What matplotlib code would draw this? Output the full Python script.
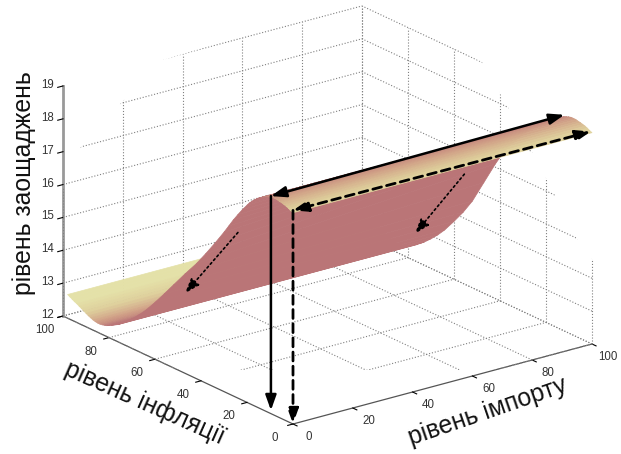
"""
Поверхня рівня заощаджень залежно від імпорту та інфляції
"""
import numpy as np
import matplotlib
matplotlib.use('Agg')
import matplotlib.pyplot as plt
from matplotlib.colors import LinearSegmentedColormap
from matplotlib.path import Path
from matplotlib.transforms import IdentityTransform
from mpl_toolkits.mplot3d import proj3d

plt.rcParams['font.family'] = ['Liberation Sans', 'DejaVu Sans']

# Дані
import_ticks = [0, 20, 40, 60, 80, 100]
inflation_ticks = [0, 20, 40, 60, 80, 100]
savings_ticks = [12, 13, 14, 15, 16, 17, 18, 19]

import_levels = [0, 100]
inflation_levels = [0, 1, 2, 3, 4, 5, 6, 7, 8, 9, 10, 11, 12, 13, 14, 15, 16, 17, 18, 19, 20,
                    22, 24, 26, 28, 30, 34, 38, 42, 47, 52, 56, 60, 64, 67, 70, 73, 76, 79,
                    81, 82, 83, 84, 85, 86, 87, 88, 89, 90, 91, 92, 93, 94, 95, 96, 97, 98]
# профіль при імпорті 0
savings_near = [18.43, 18.46, 18.50, 18.53, 18.55, 18.57, 18.58, 18.60, 18.60, 18.60, 18.58,
                18.55, 18.52, 18.48, 18.43, 18.38, 18.32, 18.25, 18.18, 18.10, 18.00,
                17.80, 17.58, 17.35, 17.10, 16.85, 16.38, 15.93, 15.50, 15.02, 14.52,
                14.12, 13.73, 13.36, 13.12, 12.90, 12.70, 12.53, 12.40,
                12.33, 12.31, 12.29, 12.28, 12.28, 12.29, 12.31, 12.34, 12.37, 12.41,
                12.45, 12.49, 12.53, 12.57, 12.60, 12.64, 12.68, 12.72]
# профіль при імпорті 100
savings_far = [18.43, 18.46, 18.50, 18.53, 18.55, 18.57, 18.58, 18.60, 18.60, 18.60, 18.58,
               18.55, 18.52, 18.48, 18.43, 18.38, 18.32, 18.25, 18.18, 18.10, 18.04,
               17.95, 17.83, 17.70, 17.55, 17.40, 17.03, 16.63, 16.10, 15.37, 14.64,
               14.17, 13.76, 13.37, 13.12, 12.90, 12.70, 12.53, 12.40,
               12.33, 12.31, 12.29, 12.28, 12.28, 12.29, 12.31, 12.34, 12.37, 12.41,
               12.45, 12.49, 12.53, 12.57, 12.60, 12.64, 12.68, 12.72]

# (початок, кінець) стрілок: імпорт, інфляція, заощадження
ridge_arrow = ((100, 12, 18.58), (0, 9.6, 18.62))
ridge_drop = ((0, 9.6, 18.62), (0, 9.6, 12.1))
edge_arrow = ((100, 0.5, 18.45), (0, 0, 18.5))
edge_drop = ((0, 0, 18.5), (0, 0, 12.0))
slope_left = ((8.5, 35, 16.47), (11.6, 62, 13.66))
slope_right = ((85, 36, 16.35), (88.5, 62, 13.6))

W, H = 621, 454
fig = plt.figure(figsize=(W / 100, H / 100), dpi=100)
ax = fig.add_axes([0, 0, 1, 1], projection='3d', computed_zorder=False)
ax.set_proj_type('ortho')
ax.view_init(elev=20.76, azim=232.95)
ax.set_box_aspect((374.6, 381.7, 246))
ax.set_xlim(0, 100)
ax.set_ylim(0, 100)
ax.set_zlim(12, 19)


def to_view(p):
    tx, ty, _ = proj3d.proj_transform(p[0], p[1], p[2], ax.get_proj())
    return tx, ty


def to_pixels(p):
    return ax.transData.transform(to_view(p))


# Підганяємо положення осей під кути куба на зображенні
S = 454
ax.set_position([0, 0, S / W, S / H])
ax.apply_aspect()
S = S * 299 / (to_pixels((100, 0, 12)) - to_pixels((0, 0, 12)))[0]
ax.set_position([0, 0, S / W, S / H])
ax.apply_aspect()
p0 = to_pixels((0, 0, 12))
ax.set_position([(293 - p0[0]) / W, (H - 424 - p0[1]) / H, S / W, S / H])
ax.apply_aspect()

# Осі
for axis in (ax.xaxis, ax.yaxis, ax.zaxis):
    axis.set_pane_color((1, 1, 1, 0))
    axis.pane.set_edgecolor((1, 1, 1, 0))
    axis.line.set_color('#555555')
    axis.line.set_linewidth(0.9)
    axis._axinfo['tick']['inward_factor'] = 0.22
    axis._axinfo['tick']['outward_factor'] = 0
    axis._axinfo['tick']['linewidth'] = {True: 0.8, False: 0.5}
    axis._axinfo['tick']['color'] = '#555555'
ax.zaxis.line.set_color('#999999')
ax.zaxis.line.set_linewidth(2)
ax.grid(False)
ax.set_xticks(import_ticks)
ax.set_yticks(inflation_ticks)
ax.set_zticks(savings_ticks)
ax.set_xticklabels([])
ax.set_yticklabels([])
ax.set_zticklabels([])

# Підписи поділок ставимо самі, щоб зсув був точний
label_style = dict(textcoords='offset pixels', ha='center', va='center', fontsize=8.3,
                   color='#333333', annotation_clip=False, zorder=6)
for v in import_ticks:
    ax.annotate(str(v), xy=to_view((v, 0, 12)), xytext=(16, -13), **label_style)
for v in inflation_ticks:
    ax.annotate(str(v), xy=to_view((0, v, 12)), xytext=(-18, -14), **label_style)
for v in savings_ticks:
    ax.annotate(str(v), xy=to_view((0, 100, v)), xytext=(-15, 1), **label_style)

# Сітка: частина її на рисунку стерта, тому обрізаємо многокутником
corners = [(55, 200), (65, 186), (80, 148), (123, 101), (163, 60), (362, 0), (482, 62),
           (509, 109), (555, 195), (577, 239), (600, 270), (600, 370), (0, 370)]
clip = Path([(x, H - y) for x, y in corners] + [(55, H - 200)], closed=True)
grid_style = dict(color='#808080', linestyle=':', linewidth=0.8, zorder=1)
grid_lines = []
for v in import_ticks:
    grid_lines += ax.plot([v, v], [0, 100], [12, 12], **grid_style)
    grid_lines += ax.plot([v, v], [100, 100], [12, 19], **grid_style)
for v in inflation_ticks:
    grid_lines += ax.plot([0, 100], [v, v], [12, 12], **grid_style)
    grid_lines += ax.plot([100, 100], [v, v], [12, 19], **grid_style)
for v in savings_ticks:
    grid_lines += ax.plot([0, 100], [100, 100], [v, v], **grid_style)
    grid_lines += ax.plot([100, 100], [0, 100], [v, v], **grid_style)
for line in grid_lines:
    line.set_clip_path(clip, IdentityTransform())

# Поверхня
X, Y = np.meshgrid(import_levels, inflation_levels)
Z = np.column_stack([savings_near, savings_far])
cmap = LinearSegmentedColormap.from_list(
    'pink_sand', [(0, '#ba7577'), (0.35, '#cf9c85'), (0.7, '#dfd09c'), (1, '#e4e1a8')])
yy = np.array(inflation_levels, dtype=float)
tone = np.where(yy < 14, 0.75 * (14 - yy) / 14, np.clip((yy - 80) / 14, 0, 1))
colors = np.tile(cmap(tone)[:, None, :], (1, len(import_levels), 1))
surf = ax.plot_surface(X, Y, Z, facecolors=colors, rstride=1, cstride=1, shade=False,
                       linewidth=0.5, zorder=2)
surf.set_edgecolor(colors[:-1, 0])


# Стрілки
def arrow(start, end, style, lw, ls, size=13):
    ax.annotate('', xy=to_view(end), xytext=to_view(start), annotation_clip=False, zorder=5,
                arrowprops=dict(arrowstyle=style + ',head_length=0.7,head_width=0.25',
                                color='black', lw=lw, linestyle=ls,
                                shrinkA=0, shrinkB=0, mutation_scale=size))


arrow(ridge_arrow[0], ridge_arrow[1], '<|-|>', 1.8, '-')
arrow(ridge_drop[0], ridge_drop[1], '-|>', 1.8, '-')
arrow(edge_arrow[0], edge_arrow[1], '<|-|>', 2, (0, (3.2, 1.9)))
arrow(edge_drop[0], edge_drop[1], '-|>', 2, (0, (3.2, 1.9)))
arrow(slope_left[0], slope_left[1], '-|>', 1.2, (0, (1.2, 1.8)))
arrow(slope_right[0], slope_right[1], '-|>', 1.2, (0, (1.2, 1.8)))

# Підписи осей
fig.text(24 / W, 1 - 183 / H, 'рівень заощаджень', fontsize=17.8, rotation=90,
         ha='center', va='center', color='#111111')
fig.text(145 / W, 1 - 403 / H, 'рівень інфляції', fontsize=17.8, rotation=-24,
         ha='center', va='center', rotation_mode='anchor', color='#111111')
fig.text(488 / W, 1 - 412 / H, 'рівень імпорту', fontsize=17.8, rotation=19,
         ha='center', va='center', rotation_mode='anchor', color='#111111')

fig.savefig('out.png', dpi=100)
